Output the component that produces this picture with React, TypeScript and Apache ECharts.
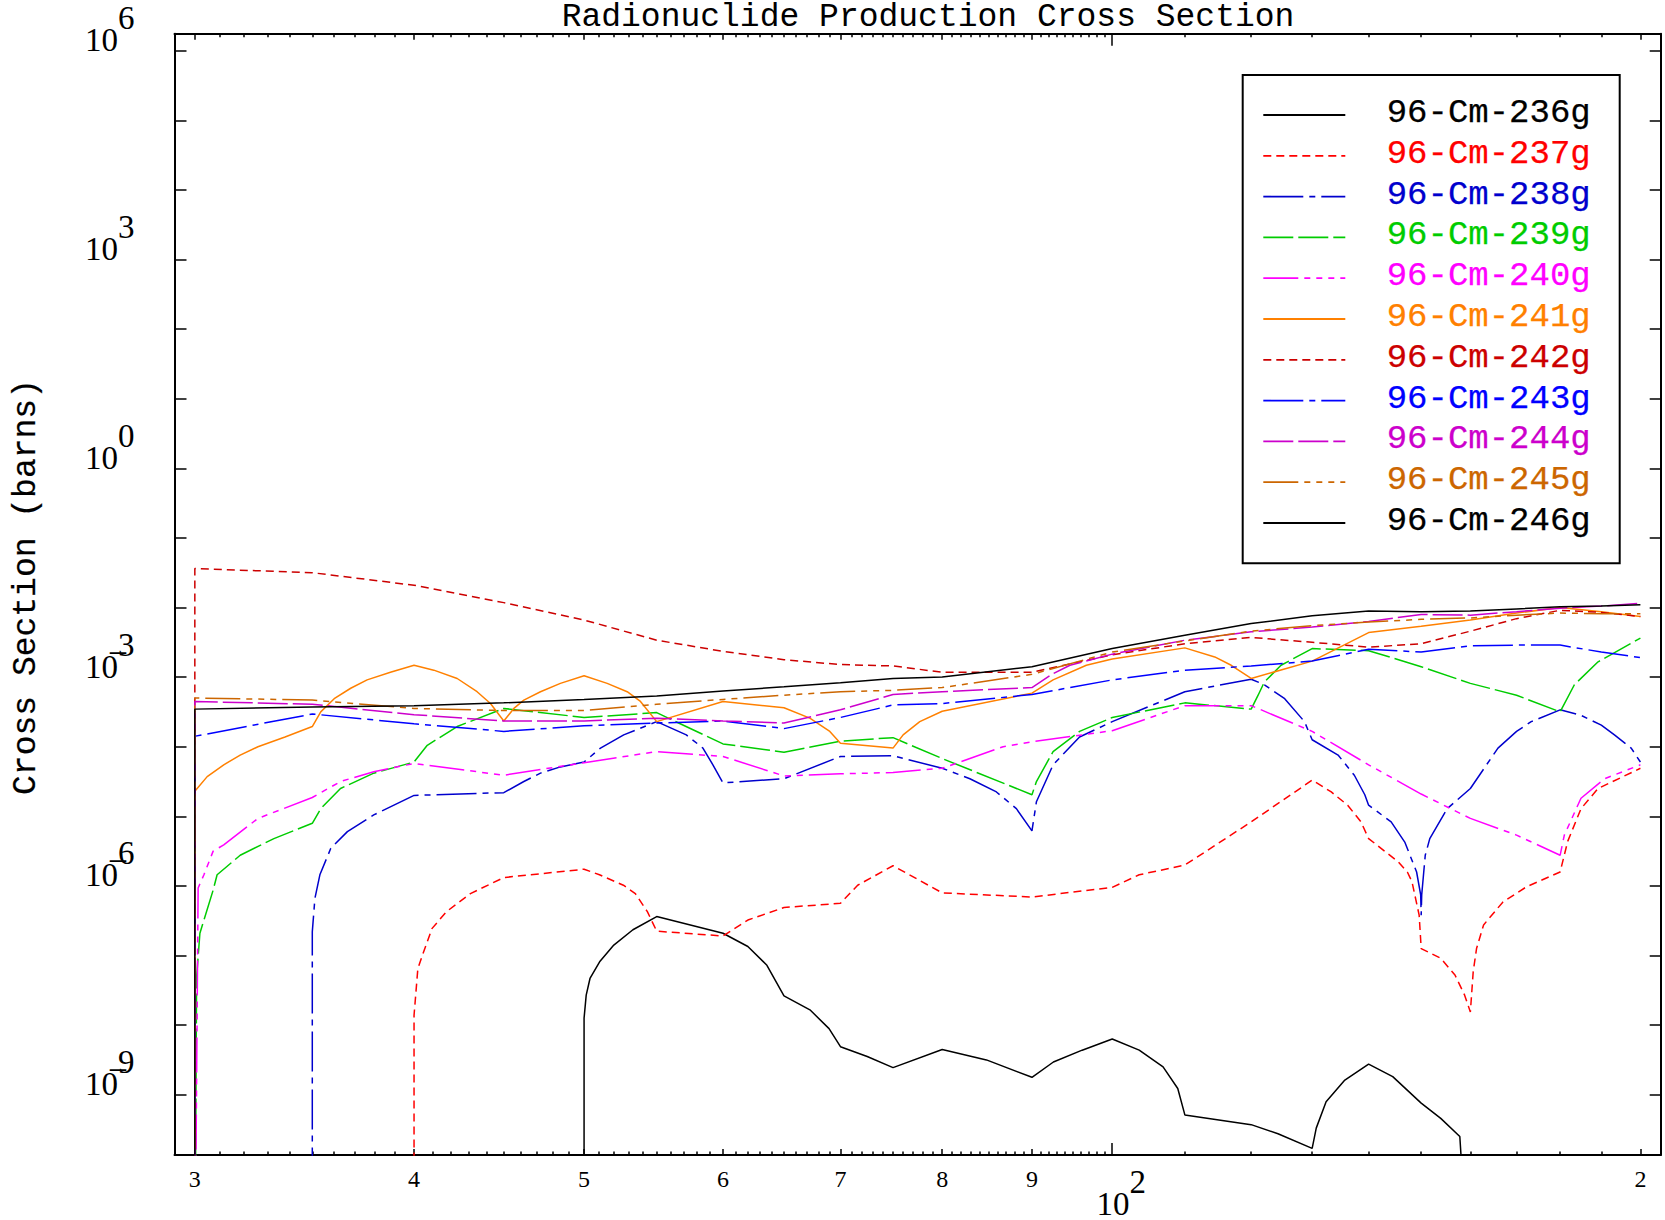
import React, { useEffect, useRef } from "react";
import * as echarts from "echarts";

// ---------------- data ----------------
// each point: [incident energy (MeV), log10 of cross section (barns)]
// ZERO marks a zero cross section (drawn down to below the axis)
const ZERO = -Infinity;

const cm236 = [[50,ZERO],[50,-7.90],[50.14,-7.57],[50.39,-7.33],[51.03,-7.09],[51.99,-6.85],[53.31,-6.63],[55,-6.44],[60,-6.68],[61.99,-6.87],[63.56,-7.14],[65,-7.58],[67.25,-7.78],[68.96,-8.05],[70,-8.31],[72.5,-8.45],[75,-8.61],[80,-8.35],[84.78,-8.50],[90,-8.75],[92.57,-8.53],[96.13,-8.36],[100,-8.20],[103.6,-8.36],[106.9,-8.60],[108.98,-8.91],[110,-9.29],[120,-9.43],[124.3,-9.56],[130,-9.77],[130.7,-9.48],[132.4,-9.10],[135.7,-8.79],[140,-8.56],[144.5,-8.74],[150,-9.12],[153.9,-9.34],[157.8,-9.60],[160,ZERO]];
const cm237 = [[40,ZERO],[40,-7.86],[40.2,-7.19],[40.45,-6.99],[40.96,-6.61],[41.74,-6.37],[43.07,-6.11],[45,-5.88],[50,-5.76],[51.02,-5.84],[52.65,-5.99],[53.48,-6.11],[54.33,-6.37],[55,-6.65],[60,-6.72],[61.99,-6.49],[65,-6.31],[70,-6.25],[71.6,-5.99],[75,-5.71],[80,-6.10],[90,-6.16],[100,-6.02],[103.6,-5.84],[110,-5.70],[120,-5.08],[130,-4.48],[133.3,-4.65],[136.2,-4.84],[138.6,-5.08],[140,-5.32],[145.5,-5.65],[147.3,-5.80],[148.2,-5.94],[149.6,-6.42],[150,-6.90],[153.9,-7.04],[156.8,-7.28],[158.8,-7.57],[160,-7.81],[160.6,-7.23],[161.3,-6.90],[162.8,-6.56],[167,-6.23],[172.3,-6.01],[180,-5.80],[181.8,-5.36],[185,-4.89],[189.2,-4.60],[200,-4.31]];
const cm238 = [[35,ZERO],[35,-6.66],[35.12,-6.18],[35.35,-5.84],[35.86,-5.46],[36.65,-5.22],[37.94,-4.98],[40,-4.70],[45,-4.66],[46.2,-4.50],[47.22,-4.38],[48.47,-4.29],[50,-4.22],[51.09,-4.02],[52.67,-3.83],[55,-3.64],[57.18,-3.83],[58.44,-4.02],[59.21,-4.26],[60,-4.52],[65,-4.46],[70,-4.14],[75,-4.13],[80,-4.31],[82.96,-4.46],[85.9,-4.65],[88.18,-4.89],[90,-5.21],[90.53,-4.79],[92.53,-4.26],[95.8,-3.86],[100,-3.64],[110,-3.21],[120,-3.03],[122.1,-3.11],[125.4,-3.31],[128.7,-3.64],[130,-3.90],[134.5,-4.12],[137.4,-4.41],[139.3,-4.69],[140,-4.84],[144.2,-5.08],[146.8,-5.37],[149.1,-5.80],[149.9,-6.13],[150,-6.42],[150.1,-6.13],[150.8,-5.56],[151.7,-5.32],[155.2,-4.89],[160,-4.60],[165.9,-4.02],[170,-3.78],[173.3,-3.64],[180,-3.47],[185,-3.55],[190,-3.69],[193.3,-3.83],[197.6,-4.02],[200,-4.22]];
const cm239 = [[30,ZERO],[30.07,-7.31],[30.2,-6.68],[30.73,-6.06],[30.89,-5.84],[31.84,-5.56],[33.28,-5.32],[35,-5.10],[35.39,-4.89],[36.32,-4.60],[37.94,-4.38],[40,-4.22],[40.7,-3.98],[42.33,-3.71],[45,-3.45],[50,-3.58],[55,-3.51],[60,-3.96],[65,-4.08],[70,-3.92],[75,-3.87],[80,-4.17],[90,-4.69],[90.53,-4.50],[92.53,-4.07],[95.8,-3.78],[100,-3.58],[110,-3.37],[120,-3.46],[121.1,-3.26],[122.1,-3.07],[124.8,-2.83],[130,-2.59],[140,-2.62],[150,-2.85],[160,-3.09],[170,-3.26],[180,-3.50],[183.4,-3.11],[189.2,-2.78],[200,-2.44]];
const cm240 = [[30,ZERO],[30.13,-6.03],[30.36,-5.84],[30.73,-5.50],[31.16,-5.41],[32.59,-5.03],[35,-4.73],[36.32,-4.50],[37.94,-4.36],[40,-4.24],[45,-4.41],[50,-4.23],[55,-4.07],[60,-4.14],[65,-4.42],[70,-4.39],[75,-4.37],[80,-4.31],[82.96,-4.17],[86.66,-4.00],[90,-3.93],[100,-3.77],[110,-3.41],[120,-3.41],[130,-3.78],[140,-4.26],[150,-4.68],[160,-5.03],[170,-5.27],[180,-5.56],[181,-5.27],[185,-4.74],[190.8,-4.46],[200,-4.26]];
const cm241 = [[30,ZERO],[30,-4.64],[30.49,-4.43],[31.16,-4.26],[31.84,-4.12],[32.59,-4.00],[33.77,-3.86],[35,-3.71],[35.39,-3.50],[36.02,-3.31],[36.81,-3.16],[37.61,-3.04],[38.78,-2.93],[40,-2.83],[41.05,-2.90],[42.33,-3.02],[43.45,-3.21],[44.22,-3.38],[45,-3.63],[45.6,-3.45],[46.2,-3.33],[47.22,-3.21],[48.47,-3.09],[50,-2.98],[51.54,-3.09],[52.91,-3.21],[53.84,-3.35],[55,-3.64],[60,-3.35],[65,-3.44],[67.24,-3.59],[69.03,-3.78],[70,-3.95],[75,-4.02],[76,-3.83],[77.68,-3.64],[80,-3.49],[90,-3.23],[92.53,-3.04],[96.66,-2.83],[100,-2.74],[110,-2.58],[114.4,-2.71],[116.9,-2.83],[120,-3.02],[130,-2.77],[140,-2.36],[150,-2.27],[160,-2.18],[170,-2.08],[180,-2.00],[190,-2.06],[200,-2.13]];
const cm242 = [[30,ZERO],[30,-1.44],[35,-1.50],[40,-1.68],[45,-1.93],[50,-2.18],[55,-2.47],[60,-2.63],[65,-2.75],[70,-2.82],[75,-2.84],[80,-2.93],[90,-2.93],[100,-2.68],[110,-2.52],[120,-2.43],[130,-2.50],[140,-2.57],[150,-2.52],[160,-2.34],[170,-2.16],[180,-2.04],[190,-2.07],[200,-2.13]];
const cm243 = [[30,ZERO],[30,-3.85],[35,-3.53],[40,-3.67],[45,-3.78],[50,-3.70],[55,-3.66],[60,-3.63],[65,-3.74],[70,-3.58],[75,-3.40],[80,-3.38],[90,-3.25],[100,-3.04],[110,-2.90],[120,-2.84],[130,-2.77],[140,-2.60],[150,-2.64],[160,-2.55],[170,-2.54],[180,-2.54],[190,-2.64],[200,-2.72]];
const cm244 = [[30,ZERO],[30,-3.35],[35,-3.39],[40,-3.54],[45,-3.63],[50,-3.63],[55,-3.59],[60,-3.63],[65,-3.66],[70,-3.47],[75,-3.25],[80,-3.21],[90,-3.15],[92.53,-2.95],[94.6,-2.83],[100,-2.67],[110,-2.47],[120,-2.35],[130,-2.28],[140,-2.20],[150,-2.10],[160,-2.11],[170,-2.06],[180,-2.01],[190,-1.98],[200,-1.94]];
const cm245 = [[30,ZERO],[30,-3.30],[35,-3.33],[40,-3.45],[45,-3.48],[50,-3.48],[55,-3.39],[60,-3.32],[65,-3.26],[70,-3.21],[75,-3.19],[80,-3.15],[90,-2.96],[100,-2.64],[110,-2.48],[120,-2.34],[130,-2.26],[140,-2.21],[150,-2.17],[160,-2.15],[170,-2.11],[180,-2.08],[190,-2.09],[200,-2.09]];
const cm246 = [[30,ZERO],[30,-3.46],[35,-3.43],[40,-3.41],[45,-3.37],[50,-3.32],[55,-3.27],[60,-3.20],[65,-3.14],[70,-3.08],[75,-3.02],[80,-3.00],[90,-2.85],[100,-2.59],[110,-2.40],[120,-2.23],[130,-2.12],[140,-2.05],[150,-2.06],[160,-2.05],[170,-2.02],[180,-1.99],[190,-1.98],[200,-1.96]];

const seriesNames = ["96-Cm-236g","96-Cm-237g","96-Cm-238g","96-Cm-239g","96-Cm-240g","96-Cm-241g","96-Cm-242g","96-Cm-243g","96-Cm-244g","96-Cm-245g","96-Cm-246g"];
const seriesData = [cm236, cm237, cm238, cm239, cm240, cm241, cm242, cm243, cm244, cm245, cm246];

// axis ticks (energy in MeV, cross-section exponent)
const energyLabelTicks = [30, 40, 50, 60, 70, 80, 90, 200];
const energyDecadeTicks = [100];
const energyMinorTicks = [31,32,33,34,35,36,37,38,39,41,42,43,44,45,46,47,48,49,51,52,53,54,55,56,57,58,59,61,62,63,64,65,66,67,68,69,71,72,73,74,75,76,77,78,79,81,82,83,84,85,86,87,88,89,91,92,93,94,95,96,97,98,99,110,120,130,140,150,160,170,180,190];
const sigmaTicks = [-9,-8,-7,-6,-5,-4,-3,-2,-1,0,1,2,3,4,5,6];
const sigmaLabelTicks = [-9,-6,-3,0,3,6];

// ---------------- styles ----------------
const SHORT_DASH = [8, 5];
const DASH_DOT = [40, 6, 6, 6];
const LONG_DASH = [30, 5];
const DASH_3DOT = [35, 6, 6, 6, 6, 6, 6, 6];
const seriesColors = ["#000000","#ff0000","#0000cd","#00cc00","#ff00ff","#ff8000","#cc0000","#0000ff","#cc00cc","#cc6600","#000000"];
const seriesDash: (number[] | null)[] = [null, SHORT_DASH, DASH_DOT, LONG_DASH, DASH_3DOT, null, SHORT_DASH, DASH_DOT, LONG_DASH, DASH_3DOT, null];

const X_MIN = Math.log10(29.21);
const X_MAX = Math.log10(205.4);
const Y_MIN = -9.866;
const Y_MAX = 6.244;
const FLOOR = -12;

const GRID = { left: 174.5, top: 33.7, width: 1486.2, height: 1121.3 };
const SERIF = '"Liberation Serif", "DejaVu Serif", serif';
const MONO = '"Liberation Mono", monospace';

const lg = (v: number) => Math.log10(v);

function buildOption() {
  const tickLine = { color: "#000", width: 1.5 };
  const baseX = {
    type: "value",
    min: X_MIN,
    max: X_MAX,
    gridIndex: 0,
    splitLine: { show: false },
    axisLabel: { show: false },
    axisLine: { show: false, onZero: false },
    axisTick: { show: false },
  };
  const mkTicks = (pos: string, vals: number[], len: number, line: boolean, extra: any = {}) => ({
    ...baseX,
    position: pos,
    axisLine: { show: line, onZero: false, lineStyle: { color: "#000", width: 2 } },
    axisTick: { show: true, inside: true, length: len, lineStyle: tickLine, customValues: vals.map(lg) },
    ...extra,
  });

  // power-of-ten label: base "10" low, exponent raised by ~22px
  const supRich = {
    h: { fontSize: 33, fontFamily: SERIF, lineHeight: 55, width: 1 },
    b: { fontSize: 33, fontFamily: SERIF, color: "#000", lineHeight: 33, verticalAlign: "bottom" },
    s: { fontSize: 33, fontFamily: SERIF, color: "#000", lineHeight: 33, verticalAlign: "top" },
  };
  const powLabel = (n: number) =>
    n < 0 ? `{h| }{b|10\u0305}{s|${-n}}` : `{h| }{b|10}{s|${n}}`;

  const xAxis = [
    mkTicks("bottom", energyLabelTicks, 6, true, {
      axisLabel: {
        show: true,
        customValues: energyLabelTicks.map(lg),
        margin: 12,
        color: "#000",
        fontFamily: SERIF,
        fontSize: 24,
        formatter: (v: number) => {
          const e = Math.round(Math.pow(10, v));
          return e >= 100 ? String(e / 100) : String(e / 10);
        },
      },
    }),
    mkTicks("bottom", energyMinorTicks, 3.5, false),
    mkTicks("bottom", energyDecadeTicks, 12, false, {
      axisLabel: {
        show: true,
        customValues: energyDecadeTicks.map(lg),
        margin: 10,
        padding: [0, 0, 0, 17],
        formatter: (v: number) => powLabel(Math.round(v)),
        rich: supRich,
      },
    }),
    mkTicks("top", energyLabelTicks, 6, true),
    mkTicks("top", energyMinorTicks, 3.5, false),
    mkTicks("top", energyDecadeTicks, 12, false),
  ];

  const baseY = {
    type: "value",
    min: Y_MIN,
    max: Y_MAX,
    gridIndex: 0,
    splitLine: { show: false },
    axisLine: { show: true, onZero: false, lineStyle: { color: "#000", width: 2 } },
  };
  const yAxis = [
    {
      ...baseY,
      position: "left",
      axisTick: { show: true, inside: true, length: 12, lineStyle: tickLine, customValues: sigmaTicks },
      axisLabel: {
        show: true,
        customValues: sigmaLabelTicks,
        margin: 40,
        align: "right",
        verticalAlign: "middle",
        padding: [0, 0, 43, 0],
        formatter: (v: number) => powLabel(Math.round(v)),
        rich: supRich,
      },
    },
    {
      ...baseY,
      position: "right",
      axisTick: { show: true, inside: true, length: 11, lineStyle: tickLine, customValues: sigmaTicks },
      axisLabel: { show: false },
    },
  ];

  const series = seriesData.map((pts, i) => ({
    type: "line",
    name: seriesNames[i],
    xAxisIndex: 0,
    yAxisIndex: 0,
    showSymbol: false,
    symbol: "none",
    clip: true,
    silent: true,
    lineStyle: { color: seriesColors[i], width: 1.5, type: seriesDash[i] || "solid" },
    data: pts.map(([e, l]) => [lg(e), Number.isFinite(l) ? l : FLOOR]),
  }));

  // legend box
  const LEG = { x: 1242.7, y: 75, w: 377, h: 488.3, row0: 115, step: 40.8, lx1: 1263.3, lx2: 1345.3, tx: 1386.7 };
  const legendEls: any[] = [
    { type: "rect", shape: { x: LEG.x, y: LEG.y, width: LEG.w, height: LEG.h }, style: { fill: "#fff", stroke: "#000", lineWidth: 2 }, z: 10 },
  ];
  seriesNames.forEach((name, i) => {
    const y = LEG.row0 + i * LEG.step;
    legendEls.push({
      type: "line",
      shape: { x1: LEG.lx1, y1: y, x2: LEG.lx2, y2: y },
      style: { stroke: seriesColors[i], lineWidth: 1.8, lineDash: seriesDash[i] || null },
      z: 11,
    });
    legendEls.push({
      type: "text",
      x: LEG.tx,
      y: y - 2,
      style: { text: name, fill: seriesColors[i], fontSize: 34, fontFamily: MONO, align: "left", verticalAlign: "middle", stroke: seriesColors[i], lineWidth: 0.25 },
      z: 11,
    });
  });

  const graphic = [
    ...legendEls,
    {
      type: "text",
      x: 928,
      y: 1,
      style: { text: "Radionuclide Production Cross Section", fill: "#000", fontSize: 33, fontFamily: MONO, align: "center", verticalAlign: "top" },
      z: 11,
    },
    {
      type: "text",
      x: 26,
      y: 587,
      rotation: Math.PI / 2,
      style: { text: "Cross Section (barns)", fill: "#000", fontSize: 33, fontFamily: MONO, align: "center", verticalAlign: "middle", stroke: "#000", lineWidth: 0.2 },
      z: 11,
    },
  ];

  return {
    animation: false,
    backgroundColor: "#ffffff",
    grid: { ...GRID, containLabel: false },
    xAxis,
    yAxis,
    series,
    graphic,
  };
}

export default function App() {
  const ref = useRef<HTMLDivElement>(null);
  useEffect(() => {
    if (!ref.current) return;
    const chart = echarts.init(ref.current, undefined, { renderer: "svg" });
    chart.setOption(buildOption() as any);
    return () => {
      chart.dispose();
    };
  }, []);
  return (
    <div
      ref={ref}
      style={{ position: "absolute", left: 0, top: 0, width: 1665, height: 1220, background: "#fff" }}
    />
  );
}
